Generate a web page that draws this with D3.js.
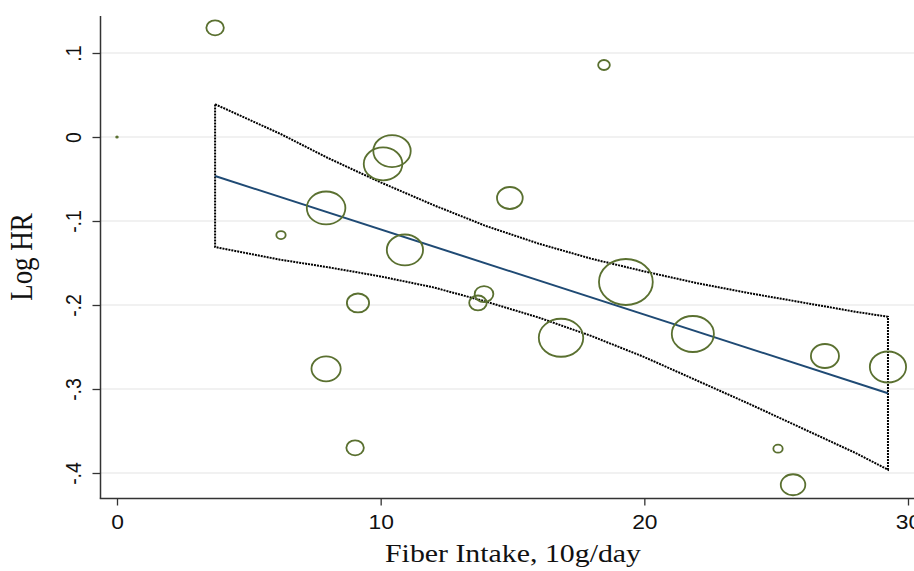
<!DOCTYPE html>
<html><head><meta charset="utf-8">
<script src="https://cdn.jsdelivr.net/npm/d3@7"></script>
<style>html,body{margin:0;padding:0;background:#fff;overflow:hidden}</style>
</head><body><svg id="c" width="914" height="571"></svg>
<script>
// ---- data ----
const studyFiber  = [3.72, 18.47, 0, 10.43, 10.09, 7.93, 6.22, 10.92, 14.90, 9.14, 13.92, 13.69, 7.93, 9.03, 16.84, 19.30, 21.84, 26.85, 29.24, 25.07, 25.64];
const studyLogHR  = [0.130, 0.0857, 0, -0.0167, -0.032, -0.0845, -0.1167, -0.1345, -0.0726, -0.1976, -0.187, -0.1976, -0.276, -0.370, -0.239, -0.1726, -0.2345, -0.2607, -0.2738, -0.371, -0.414];
const studyWeight = [56, 25, 0.5, 256, 272, 272, 16, 240, 121, 90, 64, 56, 156, 56, 361, 529, 324, 144, 240, 16, 110];

const fitX = [3.72, 29.24];
const fitY = [-0.0464, -0.305];

const bandX     = [3.72, 6.18, 8, 10, 12, 14, 16, 18, 20, 22, 24, 26, 28, 29.24];
const bandUpper = [0.039, 0.004, -0.025, -0.054, -0.081, -0.106, -0.127, -0.145, -0.160, -0.174, -0.186, -0.197, -0.208, -0.214];
const bandLower = [-0.131, -0.146, -0.155, -0.166, -0.179, -0.196, -0.215, -0.237, -0.262, -0.290, -0.318, -0.347, -0.376, -0.396];

const xTicks = [0, 10, 20, 30];
const xTickLabels = ["0", "10", "20", "30"];
const yTicks = [0.1, 0, -0.1, -0.2, -0.3, -0.4];
const yTickLabels = [".1", "0", "-.1", "-.2", "-.3", "-.4"];
const xTitle = "Fiber Intake, 10g/day";
const yTitle = "Log HR";

// ---- drawing ----
(function () {
const sx = 1.17; // horizontal stretch seen in the reference
const svg = d3.select("#c");
const x = d3.scaleLinear().domain([0, 30]).range([117, 908]);
const y = d3.scaleLinear().domain([-0.4, 0.1]).range([473, 53]);
const r = d3.scaleSqrt().domain([0, 529]).range([0, 23]);

const pLeft = 100.5, pTop = 16, pBottom = 498.5, pRight = 914;

// gridlines
svg.append("g").selectAll("line").data(yTicks).join("line")
  .attr("x1", pLeft).attr("x2", pRight)
  .attr("y1", d => y(d)).attr("y2", d => y(d))
  .attr("stroke", "#ececec").attr("stroke-width", 1.5);

// axes
const sansFont = "'Liberation Sans', Arial, sans-serif";
const xa = svg.append("g").attr("transform", `translate(0,${pBottom})`)
  .call(d3.axisBottom(x).tickValues(xTicks).tickSize(7).tickFormat((d, i) => xTickLabels[i]));
xa.select(".domain").remove();
xa.selectAll("line").attr("stroke", "#333").attr("stroke-width", 1.3);
xa.selectAll("text").attr("y", null).attr("dy", null)
  .attr("transform", `translate(0,30) scale(${sx},1)`)
  .attr("font-size", 19.5).attr("font-family", sansFont).attr("fill", "#111");

const ya = svg.append("g").attr("transform", `translate(${pLeft},0)`)
  .call(d3.axisLeft(y).tickValues(yTicks).tickSize(8).tickFormat((d, i) => yTickLabels[i]));
ya.select(".domain").remove();
ya.selectAll("line").attr("stroke", "#333").attr("stroke-width", 1.3);
ya.selectAll("text").attr("x", null).attr("dy", null)
  .attr("text-anchor", "middle")
  .attr("transform", `translate(-20,0) scale(${sx},1) rotate(-90)`)
  .attr("font-size", 19.5).attr("font-family", sansFont).attr("fill", "#111");

svg.append("line").attr("x1", pLeft).attr("x2", pLeft).attr("y1", pTop).attr("y2", pBottom)
  .attr("stroke", "#333").attr("stroke-width", 1.5);
svg.append("line").attr("x1", pLeft - 0.75).attr("x2", pRight).attr("y1", pBottom).attr("y2", pBottom)
  .attr("stroke", "#333").attr("stroke-width", 1.5);

// confidence band (closed polygon, dotted)
const bandPts = bandX.map((d, i) => [x(d), y(bandUpper[i])])
  .concat(bandX.map((d, i) => [x(d), y(bandLower[i])]).reverse());
svg.append("path")
  .attr("d", d3.line()(bandPts) + "Z")
  .attr("fill", "none").attr("stroke", "#000").attr("stroke-width", 2)
  .attr("stroke-dasharray", "2,1");

// fitted line
svg.append("path")
  .attr("d", d3.line()(fitX.map((d, i) => [x(d), y(fitY[i])])))
  .attr("fill", "none").attr("stroke", "#1f4a74").attr("stroke-width", 2);

// study markers
svg.append("g").selectAll("ellipse").data(studyFiber).join("ellipse")
  .attr("cx", (d) => x(d))
  .attr("cy", (d, i) => y(studyLogHR[i]))
  .attr("rx", (d, i) => r(studyWeight[i]) * sx)
  .attr("ry", (d, i) => r(studyWeight[i]))
  .attr("fill", "none").attr("stroke", "#5a7030").attr("stroke-width", 1.8);

// titles
const serif = "'Liberation Serif', 'Times New Roman', serif";
svg.append("text").text(xTitle)
  .attr("transform", `translate(513,562) scale(${sx},1)`)
  .attr("text-anchor", "middle").attr("font-family", serif).attr("font-size", 25.5).attr("fill", "#111");
svg.append("text").text(yTitle)
  .attr("transform", `translate(32,257) scale(${sx},1) rotate(-90)`)
  .attr("text-anchor", "middle").attr("font-family", serif).attr("font-size", 27).attr("fill", "#111");
})();
</script></body></html>
